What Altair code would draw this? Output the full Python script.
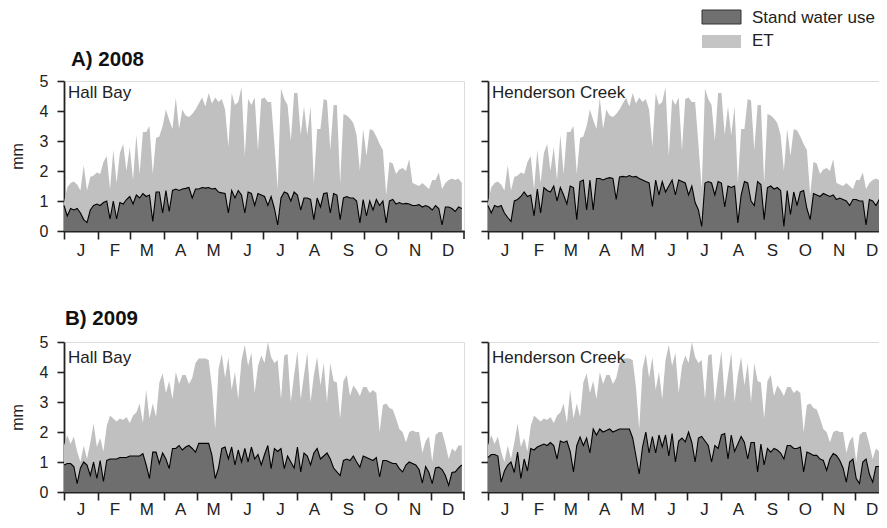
import altair as alt
import pandas as pd

FONT = "Liberation Sans, Arial, sans-serif"
MONTHS = ["J", "F", "M", "A", "M", "J", "J", "A", "S", "O", "N", "D"]
MONTH_START = [1, 32, 61, 92, 122, 153, 183, 214, 245, 275, 306, 336, 366]
DAYS = list(range(1, 366, 3))
SITES = ["Hall Bay", "Henderson Creek"]
YEARS = ["A) 2008", "B) 2009"]
SERIES = ["Stand water use", "ET"]

ET_2008 = [
    0.95, 1.45, 1.6, 1.65, 1.55, 1.35, 2.2, 1.35, 1.8, 1.85,
    1.95, 1.9, 2.3, 2.5, 1.4, 2.7, 1.6, 2.6, 2.9, 2.0,
    2.8, 1.7, 3.2, 1.9, 3.3, 3.3, 3.5, 1.9, 3.1, 3.15,
    3.5, 4.05, 3.7, 3.4, 4.45, 3.4, 4.05, 3.85, 3.8, 3.9,
    4.05, 4.25, 4.45, 4.15, 4.6, 4.25, 4.45, 4.3, 4.4, 4.05,
    2.8, 4.6, 4.2, 4.3, 4.8, 2.5, 4.4, 4.2, 4.45, 2.7,
    4.4, 4.45, 4.3, 4.3, 2.9, 1.4, 4.75, 4.4, 4.2, 3.0,
    4.6, 4.6, 3.2, 4.15, 3.2, 4.15, 1.6, 3.4, 3.4, 4.4,
    4.35, 2.7, 4.2, 4.2, 1.6, 3.9, 3.85, 3.75, 3.6, 3.2,
    2.0, 3.4, 2.5, 3.4, 3.35, 3.15, 2.9, 2.7, 1.2, 2.3,
    2.25, 1.9, 2.05, 2.1, 2.0, 2.4, 1.6, 1.55, 1.5, 1.6,
    1.5, 1.4, 1.7, 1.7, 1.95, 1.4, 1.6, 1.7, 1.75, 1.7,
    1.75, 1.6,
]
SWU_HB_2008 = [
    0.85, 0.5, 0.75, 0.7, 0.75, 0.6, 0.38, 0.28, 0.7, 0.85,
    0.9, 0.85, 0.95, 1.0, 0.4, 1.0, 0.4, 0.95, 0.9, 1.05,
    1.15, 0.9, 1.2, 1.1, 1.25, 1.15, 1.2, 0.32, 1.3, 1.3,
    0.6, 1.35, 0.65, 1.35, 1.4, 1.35, 1.4, 1.42, 1.45, 1.1,
    1.4, 1.4, 1.45, 1.43, 1.45, 1.4, 1.42, 1.3, 1.27, 1.25,
    0.6, 1.35, 1.1, 1.35, 1.2, 0.6, 1.3, 1.25, 0.85, 1.25,
    1.2, 1.15, 0.85, 1.15, 0.75, 0.2, 1.1, 1.3, 1.25, 1.0,
    1.3, 1.2, 0.7, 1.1, 1.1, 1.05, 0.38, 1.1, 0.8, 1.25,
    1.27, 0.6, 1.25, 1.2, 0.38, 1.1, 1.15, 1.1, 1.1, 1.0,
    0.27, 1.05, 0.5, 1.0, 0.7, 1.05, 0.85, 1.0, 0.27, 1.0,
    1.05, 0.9, 0.95, 0.9, 0.92, 0.9, 0.85, 0.85, 0.88, 0.8,
    0.85, 0.8, 0.7, 0.85, 0.75, 0.2, 0.8, 0.8, 0.75, 0.65,
    0.8, 0.75,
]
SWU_HC_2008 = [
    0.85, 0.6, 0.85, 0.8, 0.85, 0.6, 0.45, 0.32, 1.0, 1.05,
    1.15, 1.3, 1.15, 1.2, 0.5, 1.4, 0.6, 1.45, 1.35, 1.3,
    1.5, 1.0, 1.45, 1.2, 0.9, 1.5, 1.45, 0.38, 1.65, 1.7,
    0.7, 1.7, 0.7, 1.75, 1.75, 1.7, 1.75, 1.78, 1.75, 1.05,
    1.8, 1.82, 1.8, 1.85, 1.8, 1.82, 1.75, 1.7, 1.65, 1.6,
    0.82, 1.7, 1.2, 1.65, 1.3, 1.5, 1.7, 1.2, 1.7, 1.65,
    1.6, 1.2, 1.5, 0.95, 0.7, 0.15, 1.6, 1.65, 1.6, 1.2,
    1.65, 1.6, 0.8, 1.5, 1.45, 1.5, 0.27, 1.2, 1.65, 1.6,
    1.0, 0.85, 1.65, 1.55, 0.38, 1.45, 1.5, 1.4, 1.45, 1.35,
    0.15, 1.35, 0.55, 1.3, 0.85, 1.3, 1.35, 0.75, 0.38, 1.25,
    1.2, 1.15, 1.25, 1.2, 1.15, 1.2, 1.05, 1.1, 1.05, 1.0,
    0.85, 1.05, 1.05, 1.0, 1.0, 0.2, 1.05, 1.0, 0.85, 1.05,
    1.0, 0.95,
]
ET_2009 = [
    1.55, 1.9, 1.6, 1.85, 1.35, 1.0, 1.55, 1.1, 1.65, 2.28,
    1.5, 1.8, 1.35, 2.2, 2.55, 2.45, 2.35, 2.45, 2.4, 2.5,
    2.3, 2.55, 2.65, 2.95, 2.3, 3.4, 2.45, 2.95, 2.5, 3.65,
    3.95, 3.3, 3.7, 3.1, 4.0, 3.6, 3.9, 3.9, 3.6, 3.8,
    4.3, 4.45, 4.45, 4.45, 4.4, 3.5, 2.1, 4.1, 4.6, 3.8,
    4.5, 3.4, 4.0, 3.1, 4.4, 4.9, 4.2, 4.65, 3.3, 4.2,
    4.55, 4.3, 5.0, 4.5, 4.3, 4.4, 3.1, 4.55, 4.6, 3.0,
    3.9, 4.7, 3.1, 3.9, 4.65, 3.0, 3.9, 4.5, 3.55, 4.3,
    3.0, 4.3, 3.7, 3.65, 2.45, 3.7, 3.9, 3.2, 3.55, 3.4,
    3.2, 3.5, 3.5, 3.3, 3.4, 3.3, 2.0, 2.9, 2.95, 2.8,
    2.75, 2.45, 2.1, 2.0, 1.65, 2.0, 2.05, 2.0, 2.0, 1.3,
    1.7, 1.85, 1.0, 1.9, 2.0, 2.0, 1.6, 1.1, 1.45, 1.35,
    1.55, 1.55,
]
SWU_HB_2009 = [
    0.9, 0.95, 0.95, 0.85, 0.28, 0.8, 1.0, 0.9, 0.55, 1.0,
    0.45, 1.05, 0.35, 1.05, 1.1, 1.1, 1.1, 1.15, 1.15, 1.15,
    1.2, 1.2, 1.2, 1.2, 1.28, 0.9, 0.45, 1.33, 1.33, 0.95,
    1.3, 1.1, 0.78, 1.45, 1.45, 1.55, 1.4, 1.5, 1.55, 1.45,
    1.33, 1.62, 1.62, 1.62, 1.62, 1.22, 0.45, 0.8, 1.45, 1.5,
    1.1, 1.5, 0.9, 1.4, 1.0, 1.45, 1.0, 1.5, 1.1, 1.25,
    0.9, 1.25, 1.55, 0.78, 1.45, 1.35, 1.45, 0.78, 1.2, 1.0,
    0.8, 1.5, 0.67, 1.3, 1.2, 0.9, 1.3, 1.45, 1.1, 1.2,
    1.3, 1.1, 0.8, 0.67, 0.55, 1.05, 1.1, 1.05, 1.2, 1.0,
    0.83, 1.2, 1.15, 1.1, 1.05, 1.15, 0.5, 1.05, 1.05, 1.0,
    0.95, 0.95, 0.78, 0.67, 0.9, 1.0, 0.95, 0.9, 0.75, 0.3,
    0.85, 0.65, 0.28, 0.8, 0.83, 0.75, 0.55, 0.22, 0.65, 0.67,
    0.8, 0.9,
]
SWU_HC_2009 = [
    1.15, 1.25, 1.25, 1.2, 0.33, 0.7, 0.9, 1.0, 0.65, 1.33,
    0.45, 1.1, 0.7, 1.45, 1.4, 1.5, 1.55, 1.6, 1.55, 1.65,
    1.55, 1.1, 1.7, 1.65, 1.7, 1.35, 0.67, 1.55, 1.83, 1.55,
    1.8, 1.3, 2.1, 1.9, 2.1, 2.0, 2.05, 2.1, 2.0, 2.05,
    2.1, 2.1, 2.1, 2.1, 1.8, 1.2, 0.6, 1.5, 2.0, 1.3,
    1.85, 1.3, 1.9, 1.5, 1.9, 1.2, 1.95, 1.0, 1.7, 1.8,
    1.67, 2.0, 1.65, 1.0, 1.8, 1.85, 1.7, 1.55, 1.0, 1.55,
    1.45, 1.9, 1.95, 1.1, 1.9, 1.35, 1.6, 1.85, 1.65, 1.1,
    1.65, 1.65, 0.67, 1.6, 0.9, 1.45, 1.33, 1.45, 1.4, 1.3,
    1.1, 1.55, 1.55, 1.45, 1.45, 1.5, 0.67, 1.33, 1.28, 1.22,
    1.22, 1.1, 1.05, 0.72, 1.1, 1.28, 1.22, 1.05, 0.8, 0.33,
    1.0, 1.1, 0.45, 0.28, 1.0, 1.1, 0.6, 0.33, 0.85, 0.85,
    0.8, 1.1,
]

for arr in (ET_2008, SWU_HB_2008, SWU_HC_2008, ET_2009, SWU_HB_2009, SWU_HC_2009):
    assert len(arr) == len(DAYS), len(arr)

ET_COLOR = "#c0c0c0"
SWU_COLOR = "#6e6e6e"
AX = "#222222"
PANEL_W, PANEL_H = 400, 150
LABEL_EXPR = "[%s][indexof([%s], datum.value)]" % (
    ",".join("'%s'" % m for m in MONTHS), ",".join(str(d) for d in MONTH_START[:-1]))


def panel(et, swu, site, site_y, show_y, label_pad, year=None, year_xy=None, legend=False):
    df = pd.DataFrame({"day": DAYS, "et": et, "swu": swu})
    xscale = alt.Scale(domain=[MONTH_START[0], MONTH_START[-1]], nice=False, zero=False)
    yscale = alt.Scale(domain=[0, 5], nice=False)
    xaxis = alt.Axis(values=MONTH_START[:-1], tickCount=40, labelExpr=LABEL_EXPR,
                     labelOffset=16.5, labelAlign="center", labelFontSize=17, labelFont=FONT,
                     labelColor=AX, labelPadding=label_pad, labelFlush=False, labelOverlap=False,
                     tickSize=8, tickWidth=1.6, tickColor=AX, domainColor=AX, domainWidth=1.8,
                     grid=False)
    if show_y:
        yaxis = alt.Axis(values=[0, 1, 2, 3, 4, 5], tickCount=20, format="d", labelFontSize=16,
                         labelFont=FONT, labelColor=AX, labelPadding=9, tickSize=7,
                         tickWidth=1.6, tickColor=AX, domainColor=AX, domainWidth=1.8, grid=False,
                         titleFont=FONT, titleFontSize=16, titleFontWeight="normal", titleColor=AX,
                         titleX=-42, titleY=75, titleAlign="center", titleBaseline="alphabetic")
        ytitle = "mm"
    else:
        yaxis = alt.Axis(values=[0, 1, 2, 3, 4, 5], tickCount=20, labels=False, tickSize=7,
                         tickWidth=1.6, tickColor=AX, domainColor=AX, domainWidth=1.8, grid=False)
        ytitle = None
    base = alt.Chart(df)
    layers = [
        base.mark_area(color=ET_COLOR).encode(
            x=alt.X("day:Q", scale=xscale, axis=xaxis, title=None),
            y=alt.Y("et:Q", scale=yscale, axis=yaxis, title=ytitle),
        ),
        base.mark_area(color=SWU_COLOR).encode(
            x=alt.X("day:Q", title=None), y=alt.Y("swu:Q", title=ytitle)
        ),
        base.mark_line(color="black", strokeWidth=1.1).encode(
            x=alt.X("day:Q", title=None), y=alt.Y("swu:Q", title=ytitle)
        ),
        # closing tick at the end of December
        alt.Chart(pd.DataFrame({"d": [MONTH_START[-1]]})).mark_rule(
            color=AX, strokeWidth=1.6
        ).encode(x=alt.X("d:Q", title=None), y=alt.value(PANEL_H), y2=alt.value(PANEL_H + 8)),
        alt.Chart(pd.DataFrame({"t": [site]})).mark_text(
            align="left", baseline="alphabetic", font=FONT, fontSize=17, color=AX
        ).encode(x=alt.value(4), y=alt.value(site_y), text="t:N"),
    ]
    if year is not None:
        layers.append(
            alt.Chart(pd.DataFrame({"t": [year]})).mark_text(
                align="left", baseline="alphabetic", font=FONT, fontSize=20.5,
                fontWeight="bold", color="#111"
            ).encode(x=alt.value(year_xy[0]), y=alt.value(year_xy[1]), text="t:N")
        )
    if legend:
        ldf0 = pd.DataFrame({"t": [SERIES[0]]})
        ldf1 = pd.DataFrame({"t": [SERIES[1]]})
        layers += [
            alt.Chart(ldf0).mark_rect(color="#707070", stroke="#333333", strokeWidth=1).encode(
                x=alt.value(214), x2=alt.value(253), y=alt.value(-71), y2=alt.value(-57)),
            alt.Chart(ldf1).mark_rect(color="#c4c4c4").encode(
                x=alt.value(214), x2=alt.value(253), y=alt.value(-46), y2=alt.value(-33)),
            alt.Chart(ldf0).mark_text(align="left", baseline="alphabetic", font=FONT,
                                      fontSize=17, color=AX).encode(
                x=alt.value(264), y=alt.value(-58), text="t:N"),
            alt.Chart(ldf1).mark_text(align="left", baseline="alphabetic", font=FONT,
                                      fontSize=17, color=AX).encode(
                x=alt.value(264), y=alt.value(-35), text="t:N"),
        ]
    return alt.layer(*layers).properties(width=PANEL_W, height=PANEL_H)


p1 = panel(ET_2008, SWU_HB_2008, SITES[0], 17, True, 3, YEARS[0], (7, -15))
p2 = panel(ET_2008, SWU_HC_2008, SITES[1], 17, False, 3, legend=True)
p3 = panel(ET_2009, SWU_HB_2009, SITES[0], 21, True, 1, YEARS[1], (1, -17))
p4 = panel(ET_2009, SWU_HC_2009, SITES[1], 21, False, 1)

chart = alt.concat(p1, p2, p3, p4, columns=2, spacing={"row": 111, "column": 24},
                   bounds="flush").properties(
    padding={"top": 0, "left": 0, "right": -11, "bottom": 6}
).configure_view(strokeWidth=0).configure(font=FONT)

chart.save("out.html", embed_options={"renderer": "svg", "actions": False})
